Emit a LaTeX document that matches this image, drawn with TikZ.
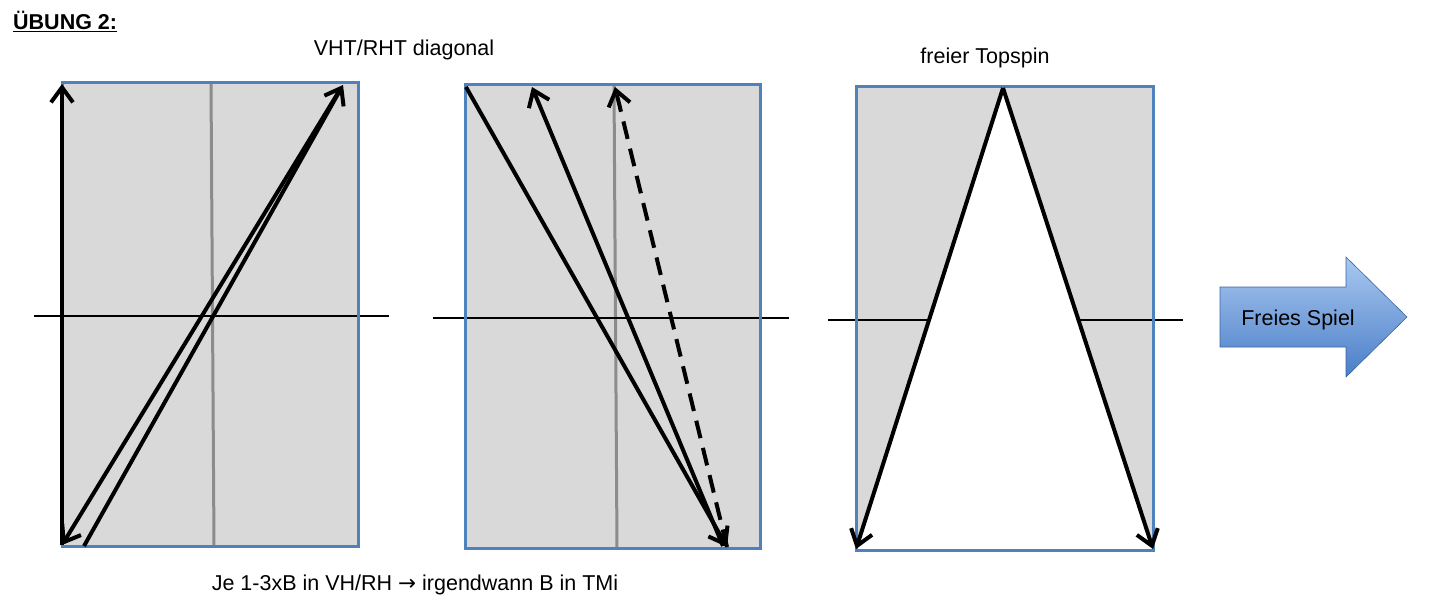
\documentclass[tikz,border=0pt]{standalone}
\usepackage{fontspec}
\setmainfont{Liberation Sans}
\newfontfamily\symfont{DejaVu Sans}
\usetikzlibrary{arrows.meta}
\definecolor{fieldgray}{HTML}{D9D9D9}
\definecolor{fieldblue}{HTML}{4F81BD}
\definecolor{midgray}{HTML}{8C8C8C}
\definecolor{arrowtop}{HTML}{A9C8F0}
\definecolor{arrowbot}{HTML}{4A7EC8}
\tikzset{
  field/.style={draw=fieldblue, line width=3pt, fill=fieldgray},
  midline/.style={draw=midgray, line width=3pt},
  netline/.style={draw=black, line width=2.8pt},
  ball/.style={draw=black, line width=4pt, -{Straight Barb[length=15pt,width=22pt]}},
  lbl/.style={font=\fontsize{21.5}{25}\selectfont, inner sep=0pt, anchor=base},
}
\begin{document}
\begin{tikzpicture}[x=1pt,y=-1pt]
\useasboundingbox (0,0) rectangle (1430,610);
% title
\node[lbl, anchor=base west] (title) at (13,30) {\underline{\textbf{ÜBUNG 2:}}};
\node[lbl] (lab1) at (404,56) {VHT/RHT diagonal};
\node[lbl] (lab2) at (985,64) {freier Topspin};
\node[lbl] (lab3) at (415,590) {Je 1-3xB in VH/RH {\symfont →} irgendwann B in TMi};

% ---------- panel 1 ----------
\fill[fieldgray] (62,83) rectangle (358,546);
\draw[midline] (211,84) -- (214,546);
\coordinate (n1l) at (34,316);
\coordinate (n1r) at (389,316);
\draw[netline] (n1l) -- (n1r);
\draw[field, fill=none] (62,83) rectangle (358,546);
\coordinate (p1bl) at (62,545);
\coordinate (p1tl) at (62,84);
\coordinate (p1tr) at (343,85);
\coordinate (p1trs) at (341,88);
\coordinate (p1b2) at (84,546);
\draw[ball] (p1bl) -- (p1tl);
\draw[ball] (p1trs) -- (p1bl);
\draw[ball] (p1b2) -- (p1tr);

% ---------- panel 2 ----------
\fill[fieldgray] (465,85) rectangle (760,548);
\draw[midline] (614,86) -- (617,548);
\coordinate (n2l) at (433,318);
\coordinate (n2r) at (789,318);
\draw[netline] (n2l) -- (n2r);
\draw[field, fill=none] (465,85) rectangle (760,548);
\coordinate (p2tl) at (466,87);
\coordinate (p2br) at (727,547);
\coordinate (p2bs) at (723,546);
\coordinate (p2t1) at (532,87);
\coordinate (p2t2) at (615,87);
\draw[ball] (p2tl) -- (p2br);
\draw[ball] (p2bs) -- (p2t1);
\draw[ball, dash pattern=on 18pt off 10pt] (p2br) -- (p2t2);

% ---------- panel 3 ----------
\fill[fieldgray] (856,87) rectangle (1153,550);
\coordinate (n3l) at (828,320);
\coordinate (n3r) at (1183,320);
\draw[netline] (n3l) -- (n3r);
\coordinate (apex) at (1003,88);
\coordinate (p3bl) at (856,549);
\coordinate (p3br) at (1153,549);
\fill[white] (1003,87) -- (856,550) -- (1153,550) -- cycle;
\draw[field, fill=none] (856,87) rectangle (1153,550);
\draw[ball] (apex) -- (p3bl);
\draw[ball] (apex) -- (p3br);

% ---------- block arrow ----------
\shade[top color=arrowtop, bottom color=arrowbot, draw=arrowbot!80!black, line width=0.6pt]
  (1220,287) -- (1346,287) -- (1346,257) -- (1407,317) -- (1346,377) -- (1346,347) -- (1220,347) -- cycle;
\node[lbl] (free) at (1298,325) {Freies Spiel};
\end{tikzpicture}
\end{document}
